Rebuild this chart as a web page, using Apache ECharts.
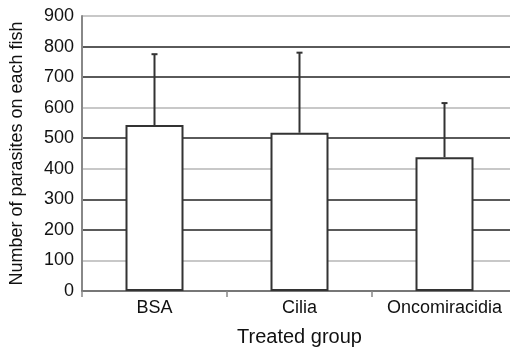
<!DOCTYPE html>
<html><head><meta charset="utf-8">
<script src="https://cdn.jsdelivr.net/npm/echarts@6/dist/echarts.min.js"></script>
<style>html,body{margin:0;padding:0;background:#fff}#c{width:510px;height:347px}</style>
</head><body><div id="c"></div>
<script>
var categories = ['BSA', 'Cilia', 'Oncomiracidia'];
var means = [543, 518, 438];
var upperErr = [775, 780, 615];
var yTicks = [0, 100, 200, 300, 400, 500, 600, 700, 800, 900];
var gridColors = ['#666', '#c8c8c8', '#5a5a5a', '#5a5a5a', '#c8c8c8', '#5a5a5a', '#c8c8c8', '#5a5a5a', '#5a5a5a', '#c8c8c8'];

var chart = echarts.init(document.getElementById('c'));
var font = 'Liberation Sans, Arial, sans-serif';
chart.setOption({
  animation: false,
  grid: {left: 82, top: 16, bottom: 56, width: 435, outerBoundsMode: 'none', containLabel: false},
  xAxis: {
    type: 'category', data: categories,
    name: 'Treated group', nameLocation: 'middle', nameGap: 36,
    nameTextStyle: {fontSize: 20, color: '#111', fontFamily: font},
    axisLine: {lineStyle: {color: '#777', width: 2}},
    axisTick: {show: true, interval: 0, length: 6, lineStyle: {color: '#888', width: 1.5}},
    axisLabel: {interval: 0, hideOverlap: false, fontSize: 18, color: '#111', fontFamily: font, margin: 8}
  },
  yAxis: {
    type: 'value', min: 0, max: 900, interval: 100,
    name: 'Number of parasites on each fish', nameLocation: 'middle', nameGap: 56,
    nameTextStyle: {fontSize: 18, color: '#111', fontFamily: font},
    axisLine: {show: true, lineStyle: {color: '#888', width: 2}},
    axisTick: {show: false},
    axisLabel: {fontSize: 18, color: '#111', fontFamily: font, margin: 8,
      formatter: function (v) { return yTicks.indexOf(v) >= 0 ? String(v) : ''; }},
    splitLine: {show: true, lineStyle: {color: gridColors, width: 2}}
  },
  series: [{
    type: 'bar', data: means, barWidth: 58,
    itemStyle: {color: '#fff', borderColor: '#333', borderWidth: 2}
  }, {
    type: 'custom',
    data: categories.map(function (c, i) { return [i, means[i], upperErr[i]]; }),
    renderItem: function (params, api) {
      var b = api.coord([api.value(0), api.value(1)]);
      var t = api.coord([api.value(0), api.value(2)]);
      return {type: 'group', children: [
        {type: 'line', shape: {x1: b[0], y1: b[1], x2: t[0], y2: t[1]}, style: {stroke: '#333', lineWidth: 2}},
        {type: 'line', shape: {x1: t[0] - 3, y1: t[1], x2: t[0] + 3, y2: t[1]}, style: {stroke: '#333', lineWidth: 2}}
      ]};
    },
    z: 3
  }]
});
</script></body></html>
